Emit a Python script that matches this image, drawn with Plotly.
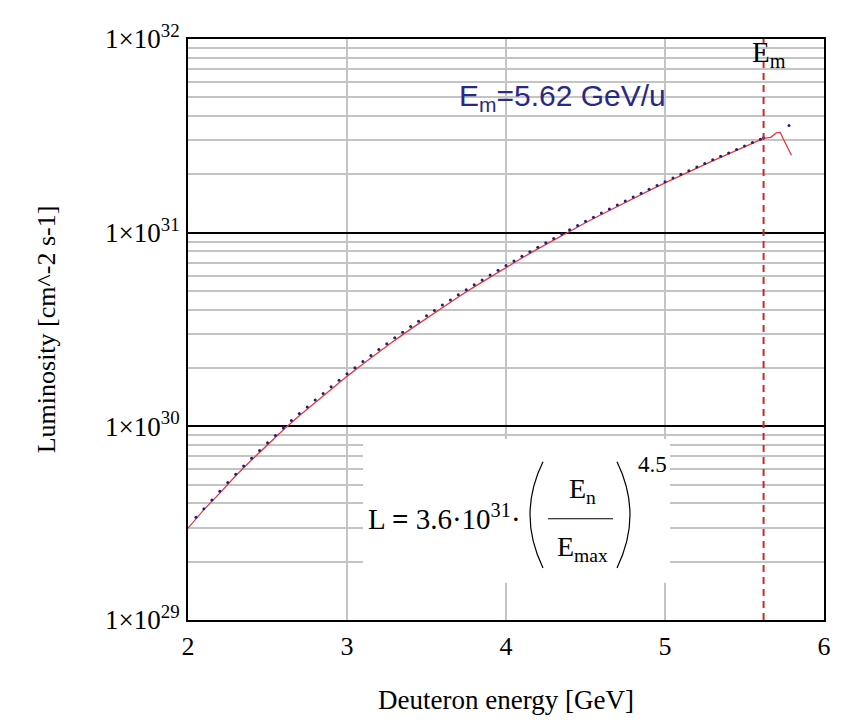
import plotly.graph_objects as go

# ---------------- data ----------------
E_m = 5.62  # GeV/u, marked by the dashed line

# red line: deuteron energy [GeV] vs log10(luminosity)
line_energy = [2.00, 2.10, 2.20, 2.30, 2.40, 2.50, 2.60, 2.70, 2.80, 2.90,
               3.00, 3.10, 3.20, 3.30, 3.40, 3.50, 3.60, 3.70, 3.80, 3.90,
               4.00, 4.10, 4.20, 4.30, 4.40, 4.50, 4.60, 4.70, 4.80, 4.90,
               5.00, 5.10, 5.20, 5.30, 5.40, 5.50, 5.60, 5.62, 5.665, 5.70,
               5.725, 5.74, 5.795]
line_log_lum = [29.474, 29.570, 29.655, 29.745, 29.826, 29.906, 29.982, 30.055, 30.124, 30.193,
                30.258, 30.322, 30.384, 30.444, 30.502, 30.558, 30.614, 30.668, 30.720, 30.771,
                30.820, 30.869, 30.916, 30.962, 31.007, 31.051, 31.094, 31.136, 31.177, 31.217,
                31.257, 31.296, 31.334, 31.371, 31.407, 31.443, 31.479, 31.487, 31.492, 31.515,
                31.518, 31.490, 31.400]

# blue dotted points
dot_energy = [2.05, 2.10, 2.15, 2.20, 2.25, 2.30, 2.35, 2.40, 2.45, 2.50,
              2.55, 2.60, 2.65, 2.70, 2.75, 2.80, 2.85, 2.90, 2.95, 3.00,
              3.05, 3.10, 3.15, 3.20, 3.25, 3.30, 3.35, 3.40, 3.45, 3.50,
              3.55, 3.60, 3.65, 3.70, 3.75, 3.80, 3.85, 3.90, 3.95, 4.00,
              4.05, 4.10, 4.15, 4.20, 4.25, 4.30, 4.35, 4.40, 4.45, 4.50,
              4.55, 4.60, 4.65, 4.70, 4.75, 4.80, 4.85, 4.90, 4.95, 5.00,
              5.05, 5.10, 5.15, 5.20, 5.25, 5.30, 5.35, 5.40, 5.45, 5.50,
              5.55, 5.60, 5.62, 5.78]
dot_log_lum = [29.530, 29.575, 29.620, 29.665, 29.710, 29.752, 29.795, 29.835, 29.875, 29.915,
               29.953, 29.992, 30.030, 30.066, 30.100, 30.136, 30.170, 30.205, 30.238, 30.272,
               30.303, 30.335, 30.366, 30.397, 30.427, 30.457, 30.486, 30.515, 30.543, 30.571,
               30.598, 30.626, 30.652, 30.679, 30.705, 30.731, 30.756, 30.781, 30.806, 30.830,
               30.854, 30.878, 30.901, 30.925, 30.948, 30.970, 30.993, 31.015, 31.037, 31.059,
               31.080, 31.101, 31.122, 31.143, 31.164, 31.184, 31.204, 31.224, 31.244, 31.263,
               31.282, 31.301, 31.320, 31.339, 31.357, 31.376, 31.394, 31.412, 31.430, 31.447,
               31.465, 31.482, 31.490, 31.553]

x_ticks = [2, 3, 4, 5, 6]
y_tick_vals = [1e29, 1e30, 1e31, 1e32]
y_tick_text = ["1×10<sup>29</sup>", "1×10<sup>30</sup>", "1×10<sup>31</sup>", "1×10<sup>32</sup>"]
y_minor_vals = [float(m) * 10.0 ** e for e in (29, 30, 31) for m in range(2, 10)]

line_lum = [10.0 ** v for v in line_log_lum]
dot_lum = [10.0 ** v for v in dot_log_lum]

# ---------------- layout geometry ----------------
PAGE_OFF = 8                      # default body margin of the html page
W, H = 848 - PAGE_OFF, 723 - PAGE_OFF
L_PX, R_PX, T_PX, B_PX = 188, 824, 29, 620   # plot area in window pixels


def fx(px):
    return (px - L_PX) / (R_PX - L_PX)


def fy(py):
    return (B_PX - py) / (B_PX - T_PX)


SERIF = "Liberation Serif, Times New Roman, serif"
SANS = "Liberation Sans, Arial, sans-serif"

fig = go.Figure()
fig.add_trace(go.Scatter(x=line_energy, y=line_lum, mode="lines",
                         line=dict(color="#e8383a", width=1.3), showlegend=False))
fig.add_trace(go.Scatter(x=dot_energy, y=dot_lum, mode="markers",
                         marker=dict(color="#1f1f7a", size=3), showlegend=False))

shapes = [
    # white box behind the formula (hides grid)
    dict(type="rect", xref="paper", yref="paper", x0=fx(363), x1=fx(670), y0=fy(582), y1=fy(436),
         fillcolor="white", line=dict(width=0), layer="above"),
    # dashed E_m line
    dict(type="line", xref="x", yref="y domain", x0=E_m, x1=E_m, y0=0, y1=1,
         line=dict(color="#cc2a2a", width=2, dash="7px,5px"), layer="above"),
    # fraction bar
    dict(type="line", xref="paper", yref="paper", x0=fx(548), x1=fx(613), y0=fy(517), y1=fy(517),
         line=dict(color="black", width=1.2), layer="above"),
    # parentheses
    dict(type="path", xref="paper", yref="paper",
         path=f"M {fx(543)} {fy(459)} Q {fx(517)} {fy(513)} {fx(543)} {fy(567)}",
         line=dict(color="black", width=1.2), layer="above"),
    dict(type="path", xref="paper", yref="paper",
         path=f"M {fx(617)} {fy(459)} Q {fx(643)} {fy(513)} {fx(617)} {fy(567)}",
         line=dict(color="black", width=1.2), layer="above"),
]

annotations = [
    dict(text="E<sub>m</sub>=5.62 GeV/u", xref="paper", yref="paper", x=fx(562), y=fy(88),
         showarrow=False, font=dict(family=SANS, size=30, color="#2a2a86"),
         xanchor="center", yanchor="middle"),
    dict(text="E<sub>m</sub>", xref="paper", yref="paper", x=fx(750), y=fy(44),
         showarrow=False, font=dict(family=SERIF, size=29, color="black"),
         xanchor="left", yanchor="middle"),
    dict(text="L <b>=</b> 3.6·10<sup>31</sup>·", xref="paper", yref="paper", x=fx(366), y=fy(515),
         showarrow=False, font=dict(family=SERIF, size=29, color="black"),
         xanchor="left", yanchor="middle"),
    dict(text="E<sub>n</sub>", xref="paper", yref="paper", x=fx(582), y=fy(488),
         showarrow=False, font=dict(family=SERIF, size=28, color="black"),
         xanchor="center", yanchor="middle"),
    dict(text="E<sub>max</sub>", xref="paper", yref="paper", x=fx(582), y=fy(547),
         showarrow=False, font=dict(family=SERIF, size=28, color="black"),
         xanchor="center", yanchor="middle"),
    dict(text="4.5", xref="paper", yref="paper", x=fx(652), y=fy(462),
         showarrow=False, font=dict(family=SERIF, size=23, color="black"),
         xanchor="center", yanchor="middle"),
]

fig.update_layout(
    width=W, height=H,
    margin=dict(l=L_PX - PAGE_OFF, r=848 - R_PX, t=T_PX - PAGE_OFF, b=723 - B_PX),
    paper_bgcolor="white", plot_bgcolor="white",
    shapes=shapes, annotations=annotations,
    xaxis=dict(range=[2, 6], tickmode="array", tickvals=x_ticks, ticktext=[str(t) for t in x_ticks],
               showgrid=True, gridcolor="#c4c4c4", gridwidth=1.5,
               showline=True, linecolor="black", linewidth=2, mirror=True,
               ticks="", ticklabelstandoff=2, zeroline=False,
               tickfont=dict(family=SERIF, size=26, color="black"),
               title=dict(text="Deuteron energy [GeV]", font=dict(family=SERIF, size=27, color="black"),
                          standoff=30)),
    yaxis=dict(type="log", range=[29, 32], tickmode="array", tickvals=y_tick_vals, ticktext=y_tick_text,
               showgrid=True, gridcolor="black", gridwidth=2,
               minor=dict(tickvals=y_minor_vals, showgrid=True, gridcolor="#c4c4c4", gridwidth=1.5, ticks=""),
               showline=True, linecolor="black", linewidth=2, mirror=True,
               ticks="", ticklabelstandoff=1, zeroline=False,
               tickfont=dict(family=SERIF, size=27, color="black"),
               title=dict(text="Luminosity [cm^-2 s-1]", font=dict(family=SERIF, size=26, color="black"),
                          standoff=42)),
)

fig.write_html("out.html")
